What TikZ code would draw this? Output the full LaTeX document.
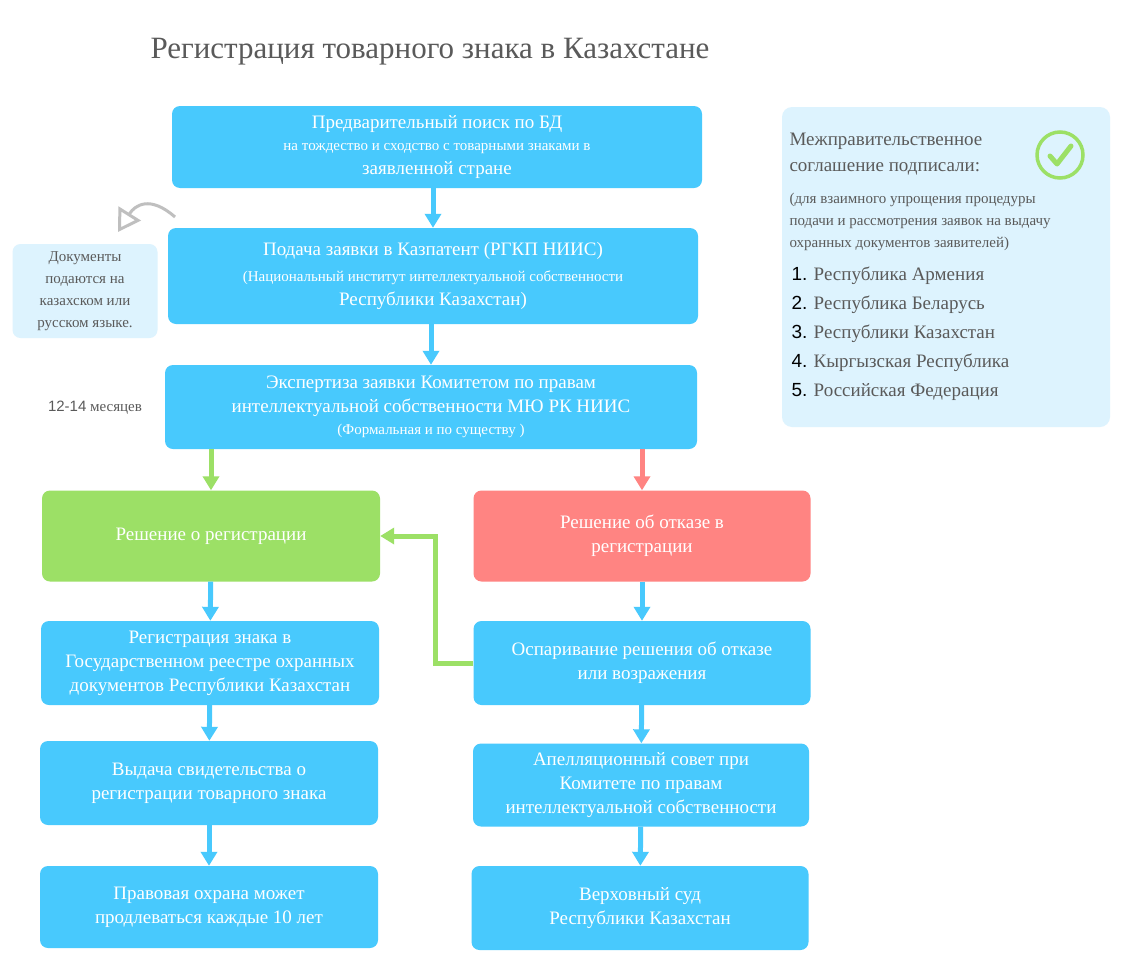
\documentclass[tikz,border=0pt]{standalone}
\usepackage{fontspec}
\setmainfont{Liberation Serif}
\newfontfamily\numfont{Liberation Sans}
\usetikzlibrary{arrows.meta}
\definecolor{stepblue}{HTML}{48C9FD}
\definecolor{okgreen}{HTML}{9CE066}
\definecolor{nored}{HTML}{FF8482}
\definecolor{panelblue}{HTML}{DDF3FE}
\definecolor{txtgrey}{HTML}{5A5A5A}
\newcommand{\smalltxt}{\fontsize{15}{21}\selectfont}
\tikzset{
  stage/.style={fill=stepblue, rounded corners=8pt, text=white, align=center,
    font=\fontsize{19}{24}\selectfont, inner sep=2pt},
  flow/.style={line width=5pt, draw=stepblue, -{Triangle[length=14pt,width=16pt]}}
}
\begin{document}
\begin{tikzpicture}[x=1pt, y=-1pt]
\useasboundingbox[fill=white] (0,0) rectangle (1129,977);

\node[text=txtgrey, font=\fontsize{31}{36}\selectfont] (title) at (430,52) {Регистрация товарного знака в Казахстане};

% main column
\node[stage, minimum width=530, minimum height=82] (search) at (437,147)
  {Предварительный поиск по БД\\[-2pt]\smalltxt на тождество и сходство с товарными знаками в\\заявленной стране};
\node[stage, minimum width=530, minimum height=96] (filing) at (433,276)
  {Подача заявки в Казпатент (РГКП НИИС)\\[2pt]\smalltxt (Национальный институт интеллектуальной собственности\\Республики Казахстан)};
\node[stage, minimum width=532, minimum height=84] (exam) at (431,407)
  {Экспертиза заявки Комитетом по правам\\интеллектуальной собственности МЮ РК НИИС\\[-2pt]\smalltxt (Формальная и по существу )};

% left branch
\node[stage, fill=okgreen, minimum width=338, minimum height=91] (grant) at (211,536) {Решение о регистрации};
\node[stage, minimum width=338, minimum height=84] (register) at (210,663)
  {Регистрация знака в\\Государственном реестре охранных\\документов Республики Казахстан};
\node[stage, minimum width=338, minimum height=84] (certif) at (209,783)
  {Выдача свидетельства о\\регистрации товарного знака};
\node[stage, minimum width=338, minimum height=82] (renew) at (209,907)
  {Правовая охрана может\\продлеваться каждые 10 лет};

% right branch
\node[stage, fill=nored, minimum width=337, minimum height=91] (refuse) at (642,536) {Решение об отказе в\\регистрации};
\node[stage, minimum width=337, minimum height=84] (appeal) at (642,663)
  {Оспаривание решения об отказе\\или возражения};
\node[stage, minimum width=336, minimum height=83] (board) at (641,785)
  {Апелляционный совет при\\Комитете по правам\\интеллектуальной собственности};
\node[stage, minimum width=337, minimum height=84] (court) at (640,908)
  {Верховный суд\\Республики Казахстан};

% note and duration
\node[fill=panelblue, rounded corners=8pt, minimum width=145, minimum height=94, align=center,
  text=txtgrey, font=\fontsize{15}{22}\selectfont] (lang) at (85,291)
  {Документы\\подаются на\\казахском или\\русском языке.};
\node[text=txtgrey, font=\fontsize{15}{18}\selectfont] (term) at (95,408) {{\numfont 12-14} месяцев};
\draw[line width=3pt, draw=gray!50, -{Triangle[open, length=22pt, width=26pt, line width=3pt]}]
  (175,217) .. controls (150,195) and (135,205) .. (118,232);

% agreement panel
\fill[panelblue, rounded corners=10pt] (782,107) rectangle (1110,427);
\node[text=txtgrey, align=left, anchor=north west, font=\fontsize{19}{26}\selectfont] (agree) at (786,130)
  {Межправительственное\\соглашение подписали:};
\node[text=txtgrey, align=left, anchor=north west, font=\fontsize{15}{22}\selectfont] (purpose) at (786,190)
  {(для взаимного упрощения процедуры\\подачи и рассмотрения заявок на выдачу\\охранных документов заявителей)};
\node[text=txtgrey, align=left, anchor=north west, font=\fontsize{19}{29}\selectfont] (states) at (788,263)
  {\textcolor{black}{\numfont 1.} Республика Армения\\\textcolor{black}{\numfont 2.} Республика Беларусь\\
   \textcolor{black}{\numfont 3.} Республики Казахстан\\\textcolor{black}{\numfont 4.} Кыргызская Республика\\
   \textcolor{black}{\numfont 5.} Российская Федерация};
\draw[okgreen, line width=3.5pt] (1060,155) circle (23);
\draw[okgreen, line width=5pt, line cap=round, line join=round] (1050,156) -- (1057,164) -- (1071,146);

% arrows
\draw[flow] (search.south -| filing.north) -- (filing);
\draw[flow] (filing.south -| exam.north) -- (exam);
\draw[flow, draw=okgreen] (exam.south -| grant.north) -- (grant);
\draw[flow, draw=nored] (exam.south -| refuse.north) -- (refuse);
\draw[flow] (grant) -- (register);
\draw[flow] (register) -- (certif);
\draw[flow] (certif) -- (renew);
\draw[flow] (refuse) -- (appeal);
\draw[flow] (appeal) -- (board);
\draw[flow] (board) -- (court);
\draw[flow, draw=okgreen] (appeal.west) -- (435,663) -- (435,536) -- (grant.east);
\end{tikzpicture}
\end{document}
